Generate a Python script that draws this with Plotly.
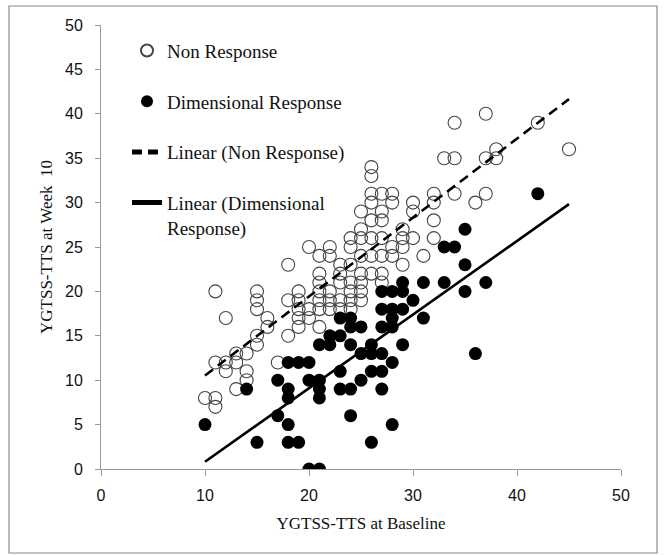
import numpy as np
import plotly.graph_objects as go

# Non Response (open circles)
non_x = [10, 11, 11, 11, 11, 12, 12, 12, 13, 13, 13, 14, 14, 14,
         15, 15, 15, 15, 15, 16, 16, 17, 18, 18, 18,
         19, 19, 19, 19, 19, 20, 20, 20,
         21, 21, 21, 21, 21, 21, 21, 22, 22, 22, 22, 22,
         23, 23, 23, 23, 23, 24, 24, 24, 24, 24, 24, 24,
         25, 25, 25, 25, 25, 25, 25, 25,
         26, 26, 26, 26, 26, 26, 26, 26,
         27, 27, 27, 27, 27, 27, 27, 28, 28, 28, 28,
         29, 29, 29, 29, 30, 30, 30, 31, 32, 32, 32, 32,
         33, 34, 34, 34, 36, 37, 37, 37, 38, 38, 42, 45]
non_y = [8, 8, 7, 20, 12, 12, 11, 17, 13, 12, 9, 13, 11, 10,
         20, 19, 18, 15, 14, 17, 16, 12, 23, 19, 15,
         20, 19, 18, 17, 16, 25, 18, 17,
         24, 22, 21, 20, 19, 18, 16, 25, 24, 20, 19, 18,
         23, 22, 21, 19, 18, 26, 25, 23, 21, 20, 19, 18,
         29, 27, 26, 24, 22, 21, 20, 19,
         34, 33, 31, 30, 28, 26, 24, 22,
         31, 29, 28, 26, 24, 22, 21, 31, 30, 25, 24,
         27, 26, 25, 23, 30, 29, 26, 24, 31, 30, 28, 26,
         35, 39, 35, 31, 30, 40, 35, 31, 36, 35, 39, 36]

# Dimensional Response (filled circles)
dim_x = [10, 14, 15, 17, 17, 18, 18, 18, 18, 18, 19, 19,
         20, 20, 20, 21, 21, 21, 21, 21, 22, 22,
         23, 23, 23, 23, 24, 24, 24, 24, 24, 25, 25, 25,
         26, 26, 26, 26, 27, 27, 27, 27, 27, 27,
         28, 28, 28, 28, 28, 28, 29, 29, 29, 29, 30, 31, 31,
         33, 33, 34, 35, 35, 35, 36, 37, 42]
dim_y = [5, 9, 3, 10, 6, 12, 9, 8, 5, 3, 12, 3,
         12, 10, 0, 14, 10, 9, 8, 0, 15, 14,
         17, 15, 11, 9, 17, 16, 14, 9, 6, 16, 13, 10,
         14, 13, 11, 3, 20, 18, 16, 13, 11, 9,
         20, 18, 17, 16, 12, 5, 21, 20, 18, 14, 19, 21, 17,
         25, 21, 25, 27, 23, 20, 13, 21, 31]

x_ticks = [0, 10, 20, 30, 40, 50]
y_ticks = [0, 5, 10, 15, 20, 25, 30, 35, 40, 45, 50]

serif = "Liberation Serif"
sans = "Liberation Sans"

# linear fits computed from the data
fit_x = np.array([min(non_x + dim_x), max(non_x + dim_x)], dtype=float)
pn = np.polyfit(non_x, non_y, 1)
pd_ = np.polyfit(dim_x, dim_y, 1)

fig = go.Figure()
fig.add_trace(go.Scatter(
    x=non_x, y=non_y, mode="markers", name="Non Response",
    legendgroup="a",
    marker=dict(symbol="circle-open", size=13, color="#444", line=dict(width=1.1, color="#444")),
))
fig.add_trace(go.Scatter(
    x=dim_x, y=dim_y, mode="markers", name="Dimensional Response",
    legendgroup="b",
    marker=dict(symbol="circle", size=13, color="black", line=dict(width=0)),
))
fig.add_trace(go.Scatter(
    x=fit_x, y=np.polyval(pn, fit_x), mode="lines", name="Linear (Non Response)",
    legendgroup="c",
    line=dict(color="black", width=2.6, dash="10px,6px"),
))
fig.add_trace(go.Scatter(
    x=fit_x, y=np.polyval(pd_, fit_x), mode="lines", name="Linear (Dimensional<br>Response)",
    legendgroup="d",
    line=dict(color="black", width=2.6),
))

fig.update_layout(
    width=665, height=555,
    margin=dict(l=101, r=44, t=25, b=86),
    plot_bgcolor="white", paper_bgcolor="white",
    showlegend=True,
    legend=dict(
        x=0.05, y=0.985, xanchor="left", yanchor="top",
        font=dict(family=serif, size=19, color="#111"),
        bgcolor="rgba(0,0,0,0)", tracegroupgap=23, valign="top",
        itemsizing="constant",
    ),
    shapes=[dict(
        type="rect", xref="paper", yref="paper",
        x0=(9 - 101) / 520, x1=(657 - 101) / 520,
        y0=(469 - 553) / 444, y1=(469 - 6) / 444,
        line=dict(color="#8a8a8a", width=1.2), fillcolor="rgba(0,0,0,0)", layer="above",
    )],
)
fig.update_xaxes(
    range=[0, 50], tickvals=x_ticks, showgrid=False, zeroline=False,
    showline=True, linecolor="#999", linewidth=1, automargin=False,
    ticks="outside", ticklen=6, tickcolor="#999", ticklabelstandoff=6,
    tickfont=dict(family=sans, size=16, color="#111"),
    title=dict(text="YGTSS-TTS at Baseline", font=dict(family=serif, size=17, color="#111"), standoff=13),
)
fig.update_yaxes(
    range=[0, 50], tickvals=y_ticks, showgrid=False, zeroline=False,
    showline=True, linecolor="#999", linewidth=1, automargin=False,
    ticks="outside", ticklen=5, tickcolor="#999", ticklabelstandoff=9,
    tickfont=dict(family=sans, size=16, color="#111"),
    title=dict(text="YGTSS-TTS at Week  10", font=dict(family=serif, size=17, color="#111"), standoff=8),
)

fig.write_html("out.html", config={"displayModeBar": False},
               post_script="document.body.style.margin='0';")
